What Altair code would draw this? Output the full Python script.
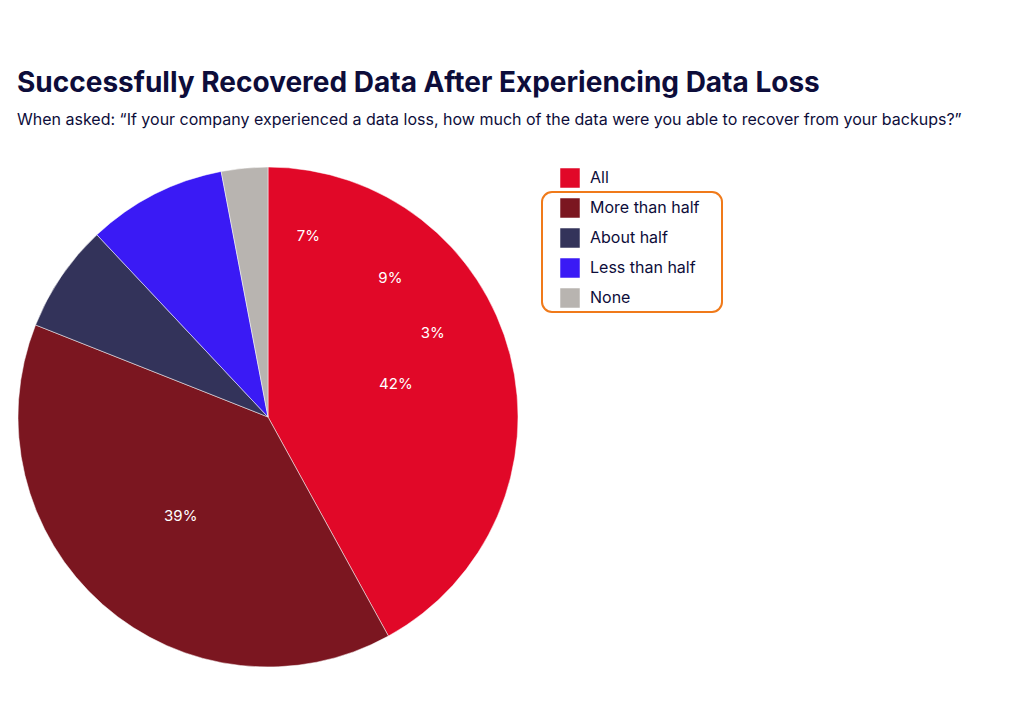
import altair as alt
import pandas as pd

categories = ["All", "More than half", "About half", "Less than half", "None"]
shares = [42, 39, 7, 9, 3]
colors = ["#E10828", "#7B1620", "#33335A", "#3A1AF5", "#B8B4B0"]

df = pd.DataFrame({"answer": categories, "share": shares, "order": list(range(len(categories)))})
df["label"] = df["share"].astype(str) + "%"

color = alt.Color("answer:N", sort=categories,
                  scale=alt.Scale(domain=categories, range=colors),
                  legend=alt.Legend(title=None, orient="none", legendX=542, legendY=10,
                                    symbolType="square", symbolSize=380, symbolStrokeWidth=0,
                                    labelFontSize=16, labelColor="#0D0D3A", labelFont="Inter",
                                    rowPadding=10, labelOffset=10))

base = alt.Chart(df).encode(
    theta=alt.Theta("share:Q", stack=True),
    order=alt.Order("order:Q"),
    x=alt.value(250), y=alt.value(259),
)

pie = base.mark_arc(radius=250, stroke="white", strokeWidth=0.5).encode(color=color)

labels = base.transform_calculate(
    r="datum.share > 20 ? 132 : 185"
).mark_text(fontSize=15, color="white", font="Inter").encode(
    radius=alt.Radius("r:Q", scale=None), text="label:N")

box = alt.Chart(pd.DataFrame({"a": [0]})).mark_rect(
    fill=None, stroke="#F07A1A", strokeWidth=2, cornerRadius=10
).encode(x=alt.value(524), x2=alt.value(704), y=alt.value(34), y2=alt.value(154))

chart = alt.layer(pie, labels, box).properties(
    width=975, height=560,
    autosize=alt.AutoSizeParams(type="none"),
    padding={"left": 10, "top": 150, "right": 10, "bottom": 10},
    title=alt.TitleParams(
        "Successfully Recovered Data After Experiencing Data Loss",
        subtitle="When asked: \u201cIf your company experienced a data loss, how much of the data were you able to recover from your backups?\u201d",
        anchor="start", font="Inter", fontSize=28, fontWeight="bold", color="#0D0D3A",
        subtitleFont="Inter", subtitleFontSize=16, subtitleColor="#0D0D3A",
        subtitlePadding=14, offset=30,
    ),
).configure_view(stroke=None)

chart.save("out.html", embed_options={"renderer": "svg", "actions": False})
